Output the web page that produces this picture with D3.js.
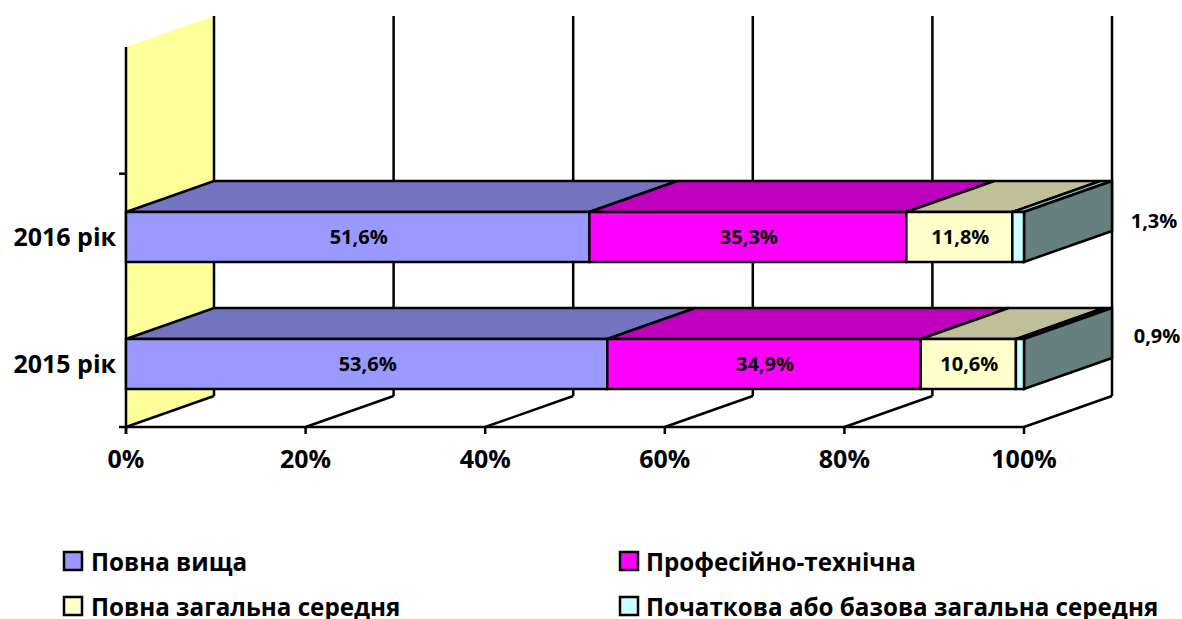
<!DOCTYPE html>
<html>
<head>
<meta charset="utf-8">
<script src="https://cdn.jsdelivr.net/npm/d3@7"></script>
<style>
  html, body { margin: 0; padding: 0; background: #fff; overflow: hidden; }
  text { font-family: "Open Sans", "Noto Sans", sans-serif; font-weight: 700; fill: #000; }
</style>
</head>
<body>
<div id="chart"></div>
<script>
// --- 3D 100% stacked bars: education level by year ---
const categories = ['', '2016 рік', '2015 рік'];
const seriesNames = ['Повна вища', 'Професійно-технічна', 'Повна загальна середня', 'Початкова або базова загальна середня'];
const values2015 = [53.6, 34.9, 10.6, 0.9];
const values2016 = [51.6, 35.3, 11.8, 1.3];
const xTicks = [0, 20, 40, 60, 80, 100];
const colors = ['#9999ff', '#ff00ff', '#ffffcc', '#ccffff'];
const topColors = ['#7373bf', '#bf00bf', '#bfbf99', '#99bfbf'];

const W = 1182, H = 619;
const depth = { x: 88, y: -31 };
const lineW = 2.5;

const svg = d3.select('#chart').append('svg').attr('width', W).attr('height', H);

const xScale = d3.scaleLinear().domain([0, 100]).range([126, 1024]);
const yScale = d3.scaleBand().domain(categories).range([47, 427]).paddingInner(0).paddingOuter(0);
const barH = 50;
const y0 = 427, yTop = 47;

const poly = (pts, fill) => svg.append('polygon')
  .attr('points', pts.map(p => p.join(',')).join(' '))
  .attr('fill', fill)
  .attr('stroke', '#000')
  .attr('stroke-width', lineW)
  .attr('stroke-linejoin', 'miter');

const line = (x1, y1, x2, y2) => svg.append('line')
  .attr('x1', x1).attr('y1', y1).attr('x2', x2).attr('y2', y2)
  .attr('stroke', '#000').attr('stroke-width', lineW);

// left wall
svg.append('polygon')
  .attr('points', [[126, yTop], [126 + depth.x, yTop + depth.y], [126 + depth.x, y0 + depth.y], [126, y0]].map(p => p.join(',')).join(' '))
  .attr('fill', '#ffff99');

// gridlines on the back, floor lines running out to the front axis
xTicks.forEach(t => {
  const x = xScale(t);
  line(x + depth.x, yTop + depth.y, x + depth.x, y0 + depth.y);
  line(x, y0, x + depth.x, y0 + depth.y);
});

// axes
line(126, yTop, 126, y0 + 7);
line(119, y0, 1024, y0);
xTicks.forEach(t => line(xScale(t), y0, xScale(t), y0 + 7));
line(119, yScale('2016 рік'), 126, yScale('2016 рік'));

xTicks.forEach(t => {
  svg.append('text')
    .attr('x', xScale(t)).attr('y', 468)
    .attr('text-anchor', 'middle')
    .attr('font-size', 25)
    .text(t + '%');
});

function drawBar(category, vals) {
  const yc = yScale(category) + yScale.bandwidth() / 2;
  const yt = Math.round(yc - barH / 2), yb = yt + barH;
  let cum = 0;
  const segs = vals.map((v, i) => {
    const s = { x0: xScale(cum), x1: xScale(cum + v), v, i };
    cum += v;
    return s;
  });
  segs.forEach(s => {
    poly([[s.x0, yt], [s.x0 + depth.x, yt + depth.y], [s.x1 + depth.x, yt + depth.y], [s.x1, yt]], topColors[s.i]);
  });
  const last = segs[segs.length - 1];
  poly([[last.x1, yt], [last.x1 + depth.x, yt + depth.y], [last.x1 + depth.x, yb + depth.y], [last.x1, yb]], '#668080');
  segs.forEach(s => {
    svg.append('rect')
      .attr('x', s.x0).attr('y', yt).attr('width', s.x1 - s.x0).attr('height', barH)
      .attr('fill', colors[s.i]).attr('stroke', '#000').attr('stroke-width', lineW);
    if (s.i < 3) {
      svg.append('text')
        .attr('x', (s.x0 + s.x1) / 2 + 1).attr('y', yt + 32)
        .attr('text-anchor', 'middle')
        .attr('font-size', 20)
        .text(s.v.toFixed(1).replace('.', ',') + '%');
    }
  });
  svg.append('text')
    .attr('x', 116).attr('y', yt + 34)
    .attr('text-anchor', 'end')
    .attr('font-size', 25)
    .text(category);
}

drawBar('2015 рік', values2015);
drawBar('2016 рік', values2016);

// small-share labels were pulled out to the right of the bars
[[values2016[3], 1154, 228], [values2015[3], 1157, 343]].forEach(([v, x, y]) => {
  svg.append('text')
    .attr('x', x).attr('y', y)
    .attr('text-anchor', 'middle')
    .attr('font-size', 20)
    .text(v.toFixed(1).replace('.', ',') + '%');
});

// legend, cut off by the bottom of the picture like the original
const legendX = [64, 620], legendTextX = [91, 646], legendY = [552, 597];
seriesNames.forEach((name, i) => {
  const col = i % 2, ly = legendY[Math.floor(i / 2)];
  svg.append('rect')
    .attr('x', legendX[col]).attr('y', ly).attr('width', 18).attr('height', 18)
    .attr('fill', colors[i]).attr('stroke', '#000').attr('stroke-width', lineW);
  svg.append('text')
    .attr('x', legendTextX[col]).attr('y', ly + 19)
    .attr('font-size', 24.2)
    .text(name);
});
</script>
</body>
</html>
